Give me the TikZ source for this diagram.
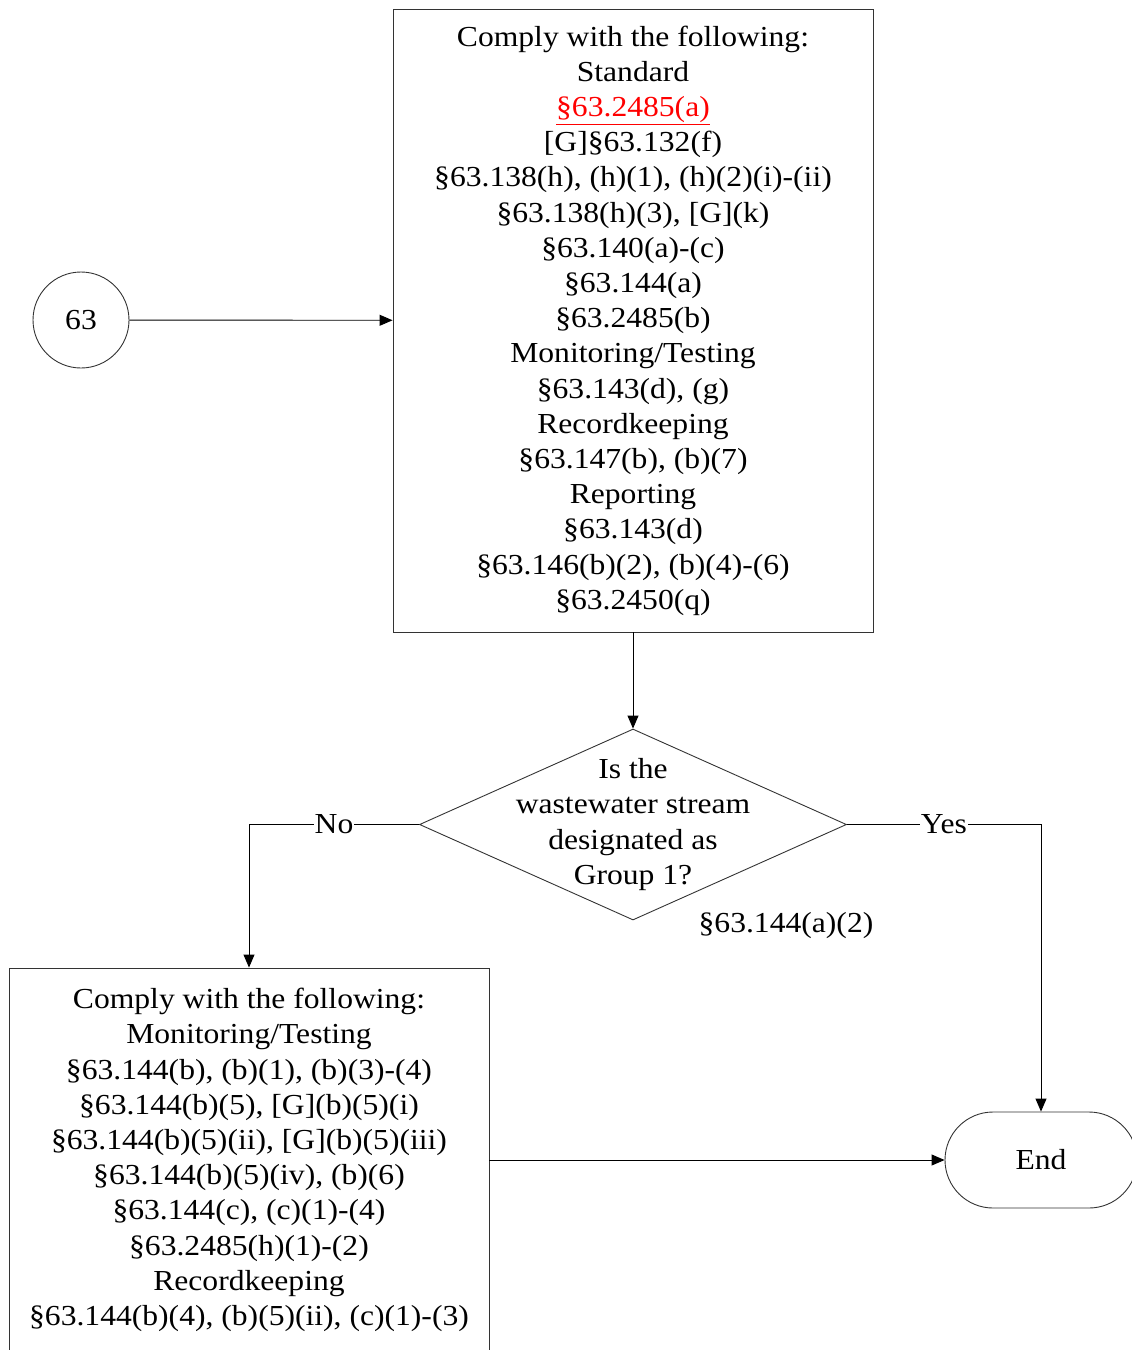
\documentclass[tikz,border=0pt]{standalone}
\usepackage{fontspec}
\setmainfont{Liberation Serif}[FakeStretch=1.09]
\usepackage{xcolor}
\usepackage{tikz}
\usetikzlibrary{arrows.meta,positioning,shapes.geometric}

\begin{document}
\begin{tikzpicture}[
    x=1pt, y=-1pt,
    every node/.style={font=\fontsize{29}{35.2}\selectfont},
    box/.style={draw=black!80, line width=0.9pt, align=center, minimum width=480pt, inner sep=0pt},
    start/.style={draw=black!80, line width=0.9pt, circle, minimum size=96pt, inner sep=0pt},
    decision/.style={draw=black!80, line width=0.9pt, diamond, minimum width=427pt, minimum height=191pt, inner sep=0pt},
    terminal/.style={draw=black!80, line width=0.9pt, rounded corners=48pt, minimum width=192pt, minimum height=96pt, inner sep=0pt},
    lbl/.style={fill=white, inner sep=1pt},
    arrow/.style={-{Triangle[length=13pt, width=11pt]}, line width=0.9pt, draw=black}
]
    \clip (0,0) rectangle (1132,1350);

    % Start
    \node[start] (s63) at (81, 320) {63};

    % Standard requirements
    \node[box, minimum height=623pt] (std) at (633, 320.5) {Comply with the following:\\
        Standard\\
        \textcolor{red}{\underline{§63.2485(a)}}\\
        {[G]}§63.132(f)\\
        §63.138(h), (h)(1), (h)(2)(i)-(ii)\\
        §63.138(h)(3), [G](k)\\
        §63.140(a)-(c)\\
        §63.144(a)\\
        §63.2485(b)\\
        Monitoring/Testing\\
        §63.143(d), (g)\\
        Recordkeeping\\
        §63.147(b), (b)(7)\\
        Reporting\\
        §63.143(d)\\
        §63.146(b)(2), (b)(4)-(6)\\
        §63.2450(q)};

    % Decision
    \node[decision] (grp) at (633, 824.5) {};
    \node[align=center] (grptext) at (grp.center) {Is the\\wastewater stream\\designated as\\Group 1?};
    \node (ref) at (786, 926) {§63.144(a)(2)};

    % Group 1 requirements
    \node[box, minimum height=384pt] (grp1) at (249, 1160) {Comply with the following:\\
        Monitoring/Testing\\
        §63.144(b), (b)(1), (b)(3)-(4)\\
        §63.144(b)(5), [G](b)(5)(i)\\
        §63.144(b)(5)(ii), [G](b)(5)(iii)\\
        §63.144(b)(5)(iv), (b)(6)\\
        §63.144(c), (c)(1)-(4)\\
        §63.2485(h)(1)-(2)\\
        Recordkeeping\\
        §63.144(b)(4), (b)(5)(ii), (c)(1)-(3)};

    % End
    \node[terminal] (end) at (1041, 1160) {End};

    % Edges
    \draw[arrow] (s63) -- (std);
    \draw[arrow] (std) -- (grp);
    \draw[arrow] (grp.west) -| node[lbl, pos=0.25] {No} (grp1.north);
    \draw[arrow] (grp.east) -| node[lbl, pos=0.25] {Yes} (end.north);
    \draw[arrow] (grp1) -- (end);

\end{tikzpicture}
\end{document}
